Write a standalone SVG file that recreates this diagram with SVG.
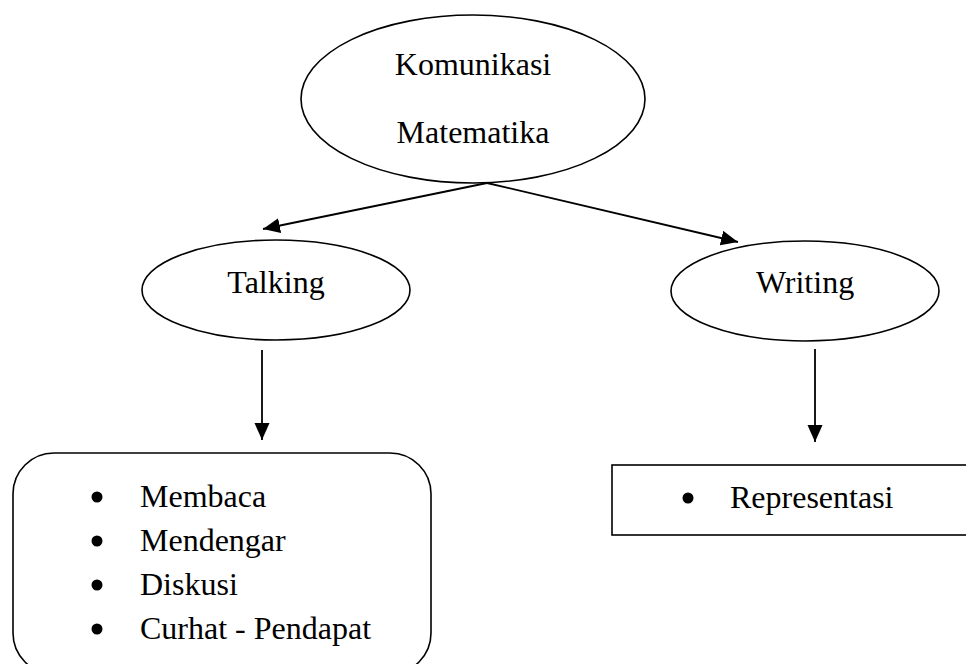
<svg xmlns="http://www.w3.org/2000/svg" width="966" height="664" viewBox="0 0 966 664">
<style>
.shape{fill:#fff;stroke:#000;stroke-width:1.6}
.t{font-family:"Liberation Serif","Times New Roman",serif;font-size:32px;fill:#000}
.c{text-anchor:middle}
.conn{stroke:#000;stroke-width:1.8;fill:none}
</style>
<defs>
<marker id="ah" markerUnits="userSpaceOnUse" markerWidth="19" markerHeight="16" refX="17" refY="7.5" orient="auto">
<path d="M0,0 L17,7.5 L0,15 z" fill="#000"/>
</marker>
</defs>
<rect width="966" height="664" fill="#fff"/>
<g id="connectors">
<line class="conn" x1="487" y1="183" x2="263" y2="229" marker-end="url(#ah)"/>
<line class="conn" x1="487" y1="183" x2="738" y2="242" marker-end="url(#ah)"/>
<line class="conn" x1="262" y1="350" x2="262" y2="440" marker-end="url(#ah)"/>
<line class="conn" x1="815" y1="349" x2="815" y2="442" marker-end="url(#ah)"/>
</g>
<g id="komunikasi">
<ellipse class="shape" cx="473" cy="99" rx="172" ry="84"/>
<text class="t c" x="473" y="75">Komunikasi</text>
<text class="t c" x="473" y="143">Matematika</text>
</g>
<g id="talking">
<ellipse class="shape" cx="276" cy="290" rx="134" ry="50"/>
<text class="t c" x="276" y="293">Talking</text>
</g>
<g id="writing">
<ellipse class="shape" cx="805" cy="291" rx="134" ry="50"/>
<text class="t c" x="805" y="293">Writing</text>
</g>
<g id="talking-list">
<rect class="shape" x="13" y="453" width="418" height="221" rx="41" ry="41"/>
<circle cx="97" cy="497" r="5.5"/>
<text class="t" x="140" y="507">Membaca</text>
<circle cx="97" cy="541" r="5.5"/>
<text class="t" x="140" y="551">Mendengar</text>
<circle cx="97" cy="585" r="5.5"/>
<text class="t" x="140" y="595">Diskusi</text>
<circle cx="97" cy="629" r="5.5"/>
<text class="t" x="140" y="639">Curhat - Pendapat</text>
</g>
<g id="writing-list">
<rect class="shape" x="612" y="465" width="370" height="70"/>
<circle cx="688" cy="498" r="5.5"/>
<text class="t" x="730" y="508">Representasi</text>
</g>
</svg>
